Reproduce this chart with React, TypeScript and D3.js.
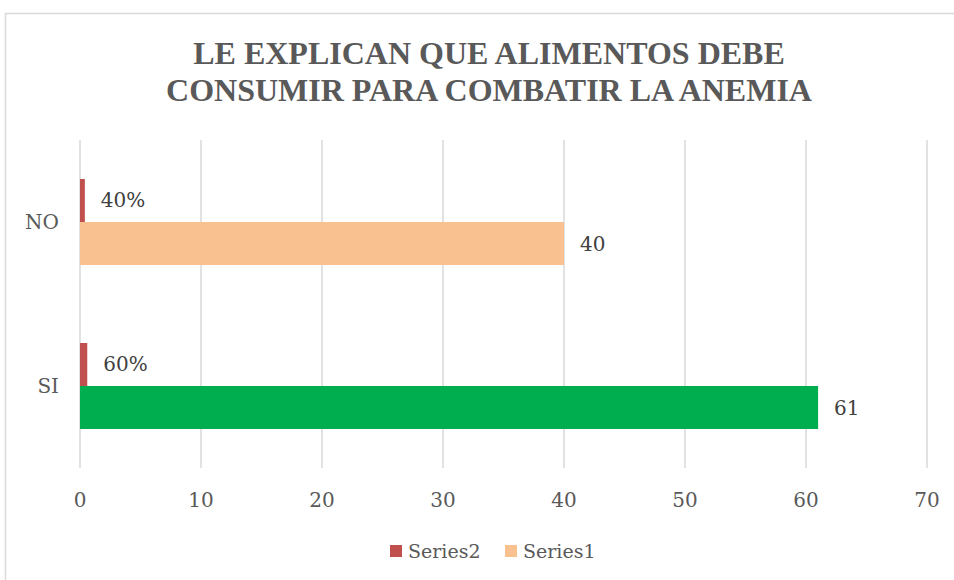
import React from "react";
import * as d3 from "d3";

const titleLines = ["LE EXPLICAN QUE ALIMENTOS DEBE", "CONSUMIR PARA COMBATIR LA ANEMIA"];
const categories = ["NO", "SI"];
const series1Values = [40, 61];
const series2Values = [0.4, 0.6];
const series2Labels = ["40%", "60%"];
const series1Colors = ["#F9C18F", "#00AE4F"];
const series2Color = "#C0504D";
const xTicks = [0, 10, 20, 30, 40, 50, 60, 70];
const legendItems = [
  { name: "Series2", color: "#C0504D" },
  { name: "Series1", color: "#F9C18F" },
];

const W = 954;
const H = 580;
const FONT = "'DejaVu Serif', serif";

export default function App() {
  const plot = { left: 80, right: 927, top: 140, bottom: 468 };
  const x = d3.scaleLinear().domain([0, 70]).range([plot.left, plot.right]);
  const y = d3
    .scaleBand<string>()
    .domain(categories)
    .range([plot.top, plot.bottom])
    .paddingInner(0.4756)
    .paddingOuter(0.2378);
  const sub = d3
    .scaleBand<string>()
    .domain(["Series2", "Series1"])
    .range([0, y.bandwidth()]);

  return (
    <svg
      width={W}
      height={H}
      style={{ position: "absolute", left: 0, top: 0, background: "#fff" }}
    >
      <rect x={0} y={0} width={W} height={H} fill="#fff" />
      <path d={`M5.5,${H + 5} V13.5 H${W + 5}`} fill="none" stroke="#D9D9D9" strokeWidth={1.5} />
      {titleLines.map((t, i) => (
        <text
          key={i}
          x={489}
          y={64 + i * 37}
          textAnchor="middle"
          fontFamily="'Liberation Serif', 'Times New Roman', serif"
          fontWeight="bold"
          fontSize={32}
          fill="#595959"
        >
          {t}
        </text>
      ))}
      {xTicks.map((t) => (
        <g key={t}>
          <line
            x1={x(t)}
            x2={x(t)}
            y1={plot.top}
            y2={plot.bottom}
            stroke="#D9D9D9"
            strokeWidth={1.5}
          />
          <text
            x={x(t)}
            y={507}
            textAnchor="middle"
            fontFamily={FONT}
            fontSize={20}
            fill="#595959"
          >
            {t}
          </text>
        </g>
      ))}
      {categories.map((c, i) => {
        const y0 = y(c)!;
        const yS2 = y0 + sub("Series2")!;
        const yS1 = y0 + sub("Series1")!;
        const bh = sub.bandwidth();
        return (
          <g key={c}>
            <rect
              x={x(0)}
              y={yS2}
              width={x(series2Values[i]) - x(0)}
              height={bh}
              fill={series2Color}
            />
            <rect
              x={x(0)}
              y={yS1}
              width={x(series1Values[i]) - x(0)}
              height={bh}
              fill={series1Colors[i]}
            />
            <text
              x={x(series2Values[i]) + 16}
              y={yS2 + bh / 2 + 7}
              fontFamily={FONT}
              fontSize={20}
              fill="#404040"
            >
              {series2Labels[i]}
            </text>
            <text
              x={x(series1Values[i]) + 16}
              y={yS1 + bh / 2 + 7}
              fontFamily={FONT}
              fontSize={20}
              fill="#404040"
            >
              {series1Values[i]}
            </text>
            <text
              x={59}
              y={y0 + y.bandwidth() / 2 + 7}
              textAnchor="end"
              fontFamily={FONT}
              fontSize={20}
              fill="#595959"
            >
              {c}
            </text>
          </g>
        );
      })}
      {legendItems.map((it, i) => {
        const lx = 390 + i * 115;
        return (
          <g key={it.name}>
            <rect x={lx} y={545} width={12} height={12} fill={it.color} />
            <text x={lx + 18} y={558} fontFamily={FONT} fontSize={19} fill="#595959">
              {it.name}
            </text>
          </g>
        );
      })}
    </svg>
  );
}
